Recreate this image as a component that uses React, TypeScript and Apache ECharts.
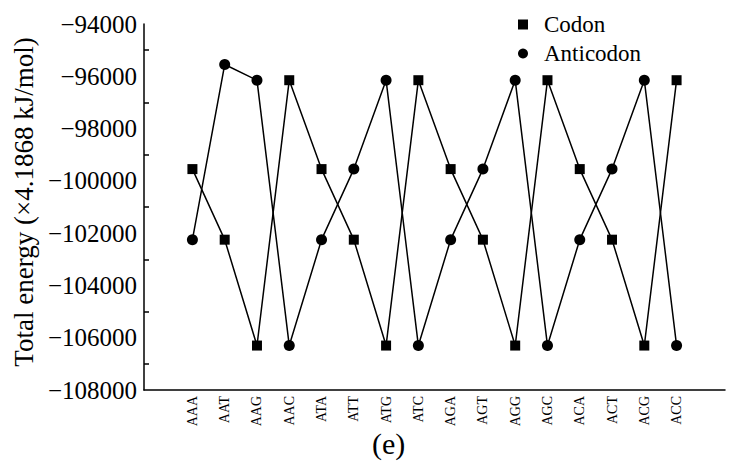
import React, { useEffect, useRef } from "react";
import * as echarts from "echarts";

const categories = ["", "AAA", "AAT", "AAG", "AAC", "ATA", "ATT", "ATG", "ATC", "AGA", "AGT", "AGG", "AGC", "ACA", "ACT", "ACG", "ACC", ""];
const codon = [null, -99550, -102250, -106300, -96150, -99550, -102250, -106300, -96150, -99550, -102250, -106300, -96150, -99550, -102250, -106300, -96150, null];
const anticodon = [null, -102250, -95550, -96150, -106300, -102250, -99550, -96150, -106300, -102250, -99550, -96150, -106300, -102250, -99550, -96150, -106300, null];
const seriesNames = ["Codon", "Anticodon"];
const yLabel = "Total energy (\u00d74.1868 kJ/mol)";
const caption = "(e)";

const FONT = "Liberation Serif";

export default function App() {
  const ref = useRef<HTMLDivElement>(null);
  useEffect(() => {
    if (!ref.current) return;
    const chart = echarts.init(ref.current, null, { renderer: "svg" });
    chart.setOption({
      animation: false,
      backgroundColor: "#fff",
      textStyle: { fontFamily: FONT },
      grid: { left: 144, right: 21, top: 24, bottom: 76, containLabel: false, outerBoundsMode: "none" },
      legend: {
        orient: "vertical",
        left: 518,
        top: 13,
        padding: 0,
        itemWidth: 10,
        itemHeight: 10,
        itemGap: 6,
        textStyle: { fontFamily: FONT, fontSize: 23, color: "#000", padding: [0, 0, 0, 11] },
        data: [
          { name: seriesNames[0], icon: "rect" },
          { name: seriesNames[1], icon: "circle" },
        ],
      },
      graphic: [
        {
          type: "text",
          left: 372,
          top: 428,
          style: { text: caption, fontFamily: FONT, fontSize: 30, fill: "#000" },
        },
      ],
      xAxis: {
        type: "category",
        data: categories,
        boundaryGap: true,
        axisLine: { lineStyle: { color: "#000", width: 1.5 } },
        axisTick: { inside: true, alignWithLabel: true, length: 8, interval: 0, lineStyle: { color: "#000", width: 1.5 } },
        axisLabel: {
          interval: 0,
          rotate: 90,
          margin: 6,
          fontFamily: FONT,
          fontSize: 14,
          color: "#000",
        },
        splitLine: { show: false },
      },
      yAxis: {
        type: "value",
        min: -108000,
        max: -94000,
        interval: 2000,
        name: yLabel,
        nameLocation: "middle",
        nameGap: 103,
        nameTextStyle: { fontFamily: FONT, fontSize: 27, color: "#000", padding: [0, 0, 0, 10] },
        axisLine: { show: true, lineStyle: { color: "#000", width: 1.5 } },
        axisTick: { inside: true, length: 9, lineStyle: { color: "#000", width: 1.5 } },
        minorTick: { show: true, splitNumber: 2, length: 5, lineStyle: { color: "#000", width: 1.5 } },
        axisLabel: {
          margin: 7,
          color: "#000",
          formatter: (v: number) => String(v).replace("-", "\u2212"),
          fontFamily: FONT,
          fontSize: 25,
          hideOverlap: false,
        },
        splitLine: { show: false },
      },
      series: [
        {
          name: seriesNames[0],
          type: "line",
          data: codon,
          symbol: "rect",
          symbolSize: 10,
          connectNulls: false,
          itemStyle: { color: "#000" },
          lineStyle: { color: "#000", width: 1.5 },
        },
        {
          name: seriesNames[1],
          type: "line",
          data: anticodon,
          symbol: "circle",
          symbolSize: 11,
          itemStyle: { color: "#000" },
          lineStyle: { color: "#000", width: 1.5 },
        },
      ],
    });
    return () => chart.dispose();
  }, []);
  return <div ref={ref} style={{ width: 746, height: 466, position: "absolute", left: 0, top: 0 }} />;
}
